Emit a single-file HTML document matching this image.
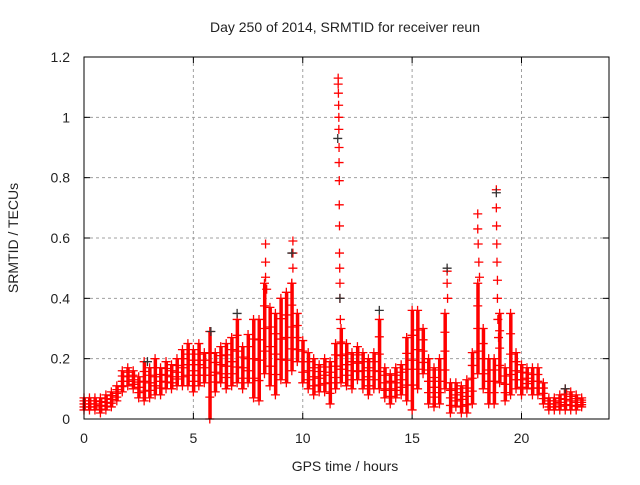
<!DOCTYPE html>
<html><head><meta charset="utf-8"><style>
body{margin:0;background:#fff}
svg text{font-family:"Liberation Sans",sans-serif;font-size:14px;fill:#222}
</style></head><body>
<svg id="chart" width="640" height="480" xmlns="http://www.w3.org/2000/svg">
<rect width="640" height="480" fill="#fff"/>
<text x="345" y="32" text-anchor="middle">Day 250 of 2014, SRMTID for receiver reun</text>
<text x="345" y="471" text-anchor="middle">GPS time / hours</text>
<text transform="translate(18,238) rotate(-90)" text-anchor="middle">SRMTID / TECUs</text>
<g id="grid"></g>
<g id="ticks"></g>
<g id="marks"></g>
<rect x="84" y="57" width="525" height="362" fill="none" stroke="#000" stroke-width="1"/>
</svg>
<script>
const xTicks=[0,5,10,15,20];
const yTicks=[0,0.2,0.4,0.6,0.8,1,1.2];
const yTickLabels=["0","0.2","0.4","0.6","0.8","1","1.2"];
const binStart=0, binStep=0.25;
const lo=[0.03,0.03,0.03,0.02,0.03,0.04,0.06,0.09,0.11,0.10,0.07,0.06,0.07,0.08,0.08,0.10,0.10,0.11,0.11,0.11,0.09,0.11,0.12,0.00,0.09,0.12,0.10,0.11,0.12,0.10,0.12,0.07,0.06,0.15,0.11,0.08,0.13,0.12,0.16,0.19,0.12,0.10,0.08,0.09,0.09,0.05,0.10,0.12,0.11,0.10,0.13,0.10,0.08,0.10,0.10,0.07,0.05,0.07,0.08,0.06,0.03,0.10,0.15,0.05,0.04,0.05,0.10,0.02,0.04,0.02,0.02,0.05,0.15,0.10,0.05,0.05,0.12,0.06,0.08,0.10,0.08,0.10,0.08,0.08,0.05,0.03,0.03,0.03,0.03,0.03,0.03,0.04];
const hi=[0.07,0.07,0.07,0.07,0.08,0.09,0.11,0.16,0.17,0.16,0.14,0.19,0.17,0.20,0.17,0.19,0.18,0.20,0.23,0.25,0.23,0.25,0.22,0.29,0.22,0.24,0.25,0.27,0.33,0.24,0.28,0.33,0.33,0.45,0.37,0.35,0.40,0.42,0.45,0.35,0.26,0.22,0.20,0.18,0.20,0.19,0.25,0.30,0.25,0.22,0.24,0.22,0.20,0.22,0.33,0.17,0.15,0.17,0.18,0.27,0.36,0.36,0.30,0.20,0.17,0.20,0.35,0.12,0.12,0.11,0.13,0.22,0.45,0.30,0.20,0.20,0.35,0.17,0.35,0.22,0.18,0.17,0.17,0.17,0.12,0.07,0.07,0.08,0.10,0.09,0.08,0.07];
const spikeX=[8.3,8.3,8.3,8.35,9.55,9.55,9.55,9.5,11.62,11.62,11.63,11.64,11.65,11.65,11.66,11.66,11.67,11.67,11.68,11.68,11.69,11.7,11.7,11.72,16.6,16.6,16.62,18.0,18.0,18.02,18.05,18.08,18.85,18.85,18.86,18.87,18.88,18.9,18.9,18.92,18.95];
const spikeY=[0.58,0.52,0.47,0.43,0.59,0.55,0.50,0.45,1.13,1.11,1.08,1.04,1.00,0.96,0.90,0.85,0.79,0.71,0.64,0.55,0.50,0.45,0.40,0.33,0.49,0.45,0.40,0.68,0.63,0.58,0.52,0.47,0.76,0.70,0.64,0.58,0.52,0.46,0.40,0.33,0.27];
const blackX=[11.6,11.7,18.85,16.6,9.5,7.0,5.8,2.9,13.5,22.0];
const blackY=[0.93,0.40,0.75,0.50,0.55,0.35,0.29,0.19,0.36,0.10];
const X0=84,X1=609,XMAX=24,Y0=419,Y1=57,YMAX=1.2;
function sx(v){return X0+(X1-X0)*v/XMAX;}
function sy(v){return Y0-(Y0-Y1)*v/YMAX;}
const NS="http://www.w3.org/2000/svg";
function mk(tag,attrs,parent){const e=document.createElementNS(NS,tag);for(const k in attrs)e.setAttribute(k,attrs[k]);parent.appendChild(e);return e;}
const grid=document.getElementById('grid'),ticks=document.getElementById('ticks'),marks=document.getElementById('marks');
xTicks.forEach(t=>{
  const x=sx(t);
  if(t>0){const g=mk('line',{x1:x,x2:x,y1:Y1,y2:Y0,stroke:'#a0a0a0','stroke-dasharray':'3,3'},grid);
  
  }
  mk('line',{x1:x,x2:x,y1:Y0,y2:Y0-6,stroke:'#000'},ticks);
  mk('line',{x1:x,x2:x,y1:Y1,y2:Y1+6,stroke:'#000'},ticks);
  const l=mk('text',{x:x,y:Y0+24,'text-anchor':'middle'},ticks);l.textContent=String(t);
  
  
});
yTicks.forEach((t,i)=>{
  const y=sy(t);
  if(t>0&&t<YMAX){const g=mk('line',{x1:X0,x2:X1,y1:y,y2:y,stroke:'#a0a0a0','stroke-dasharray':'3,3'},grid);
  
  }
  mk('line',{x1:X0,x2:X0+6,y1:y,y2:y,stroke:'#000'},ticks);
  mk('line',{x1:X1,x2:X1-6,y1:y,y2:y,stroke:'#000'},ticks);
  const l=mk('text',{x:X0-14,y:y+5,'text-anchor':'end'},ticks);l.textContent=yTickLabels[i];
  
  
});
function cross(x,y,col){
  return mk('path',{d:`M${x-4.5},${y}h9M${x},${y-4.5}v9`,stroke:col,'stroke-width':1.3,fill:'none'},marks);
}
lo.forEach((l,i)=>{
  const t=binStart+i*binStep, h=hi[i];
  const x=sx(t);
  const b=mk('rect',{x:x-1.5,y:sy(h),width:3.5,height:Math.max(1,sy(l)-sy(h)),fill:'#ff0000'},marks);
  
  
  [l,h,(l+h)/2,(3*l+h)/4,(l+3*h)/4].forEach(v=>{const c=cross(x,sy(v),'#ff0000');
    
    });
});
spikeX.forEach((t,i)=>{
  const c=cross(sx(t),sy(spikeY[i]),'#ff0000');
  
  
});
blackX.forEach((t,i)=>{
  const c=cross(sx(t),sy(blackY[i]),'#333333');
  
  
});
</script>
</body></html>
